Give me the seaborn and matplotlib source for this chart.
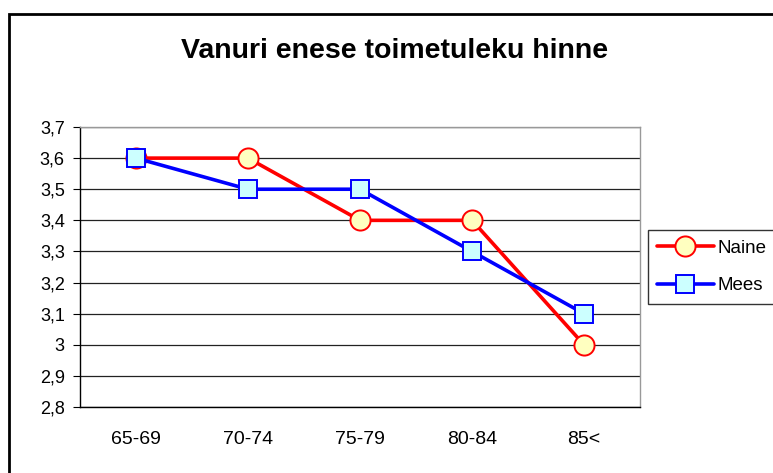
import matplotlib
matplotlib.use("Agg")
import matplotlib.pyplot as plt
import seaborn as sns
import pandas as pd
from matplotlib.patches import Rectangle
from matplotlib.ticker import FuncFormatter

# Andmed
age_groups = ["65-69", "70-74", "75-79", "80-84", "85<"]
naine = [3.6, 3.6, 3.4, 3.4, 3.0]
mees = [3.6, 3.5, 3.5, 3.3, 3.1]

df = pd.DataFrame({"x": range(len(age_groups)), "Naine": naine, "Mees": mees})

sns.set_style("white")
plt.rcParams["font.family"] = ["Liberation Sans", "DejaVu Sans"]
plt.rcParams["text.color"] = "black"
plt.rcParams["xtick.color"] = "black"
plt.rcParams["ytick.color"] = "black"

fig = plt.figure(figsize=(7.73, 4.73), dpi=100)
ax = fig.add_axes([0.1035, 0.1395, 0.7245, 0.592])

sns.lineplot(data=df, x="x", y="Naine", ax=ax, color="#ff0000", linewidth=2.6,
             marker="o", markersize=14.5, markerfacecolor="#ffffc0",
             markeredgecolor="#ff0000", markeredgewidth=1.4, label="Naine")
sns.lineplot(data=df, x="x", y="Mees", ax=ax, color="#0000ff", linewidth=2.6,
             marker="s", markersize=13.5, markerfacecolor="#ccffff",
             markeredgecolor="#0000ff", markeredgewidth=1.4, label="Mees")

ax.set_xlim(-0.5, len(age_groups) - 0.5)
ax.set_ylim(2.8, 3.7)
ax.set_yticks([2.8 + 0.1 * i for i in range(10)])
ax.yaxis.set_major_formatter(FuncFormatter(lambda v, p: f"{v:.1f}".replace(".", ",").replace(",0", "")))
ax.set_xticks(range(len(age_groups)))
ax.set_xticklabels(age_groups)
ax.set_xticks([i - 0.5 for i in range(len(age_groups) + 1)], minor=True)
ax.tick_params(axis="x", which="major", length=0, pad=17, labelsize=14)
ax.tick_params(axis="x", which="minor", length=5, color="black", direction="out")
ax.tick_params(axis="y", length=5, color="black", direction="out", labelsize=13,
               left=True, pad=6)
ax.set_xlabel("")
ax.set_ylabel("")

ax.grid(axis="y", color="#222222", linewidth=0.9)
ax.set_axisbelow(True)
for side in ["left", "bottom"]:
    ax.spines[side].set_color("black")
    ax.spines[side].set_linewidth(1.0)
for side in ["top", "right"]:
    ax.spines[side].set_visible(True)
    ax.spines[side].set_color("#999999")
    ax.spines[side].set_linewidth(1.0)

fig.text(0.51, 0.893, "Vanuri enese toimetuleku hinne", ha="center", va="center",
         fontsize=20.5, fontweight="bold")

leg = ax.legend(loc="center left", bbox_to_anchor=(1.014, 0.5), borderaxespad=0,
                frameon=True, fancybox=False, edgecolor="black", fontsize=13.5,
                handlelength=3.0, borderpad=0.5, labelspacing=1.1, handletextpad=0.2)
leg.get_frame().set_linewidth(1.0)

fig.patches.append(Rectangle((0.011, -0.01), 1.0, 0.98, transform=fig.transFigure,
                             fill=False, edgecolor="black", linewidth=2))

fig.savefig("out.png", dpi=100)
